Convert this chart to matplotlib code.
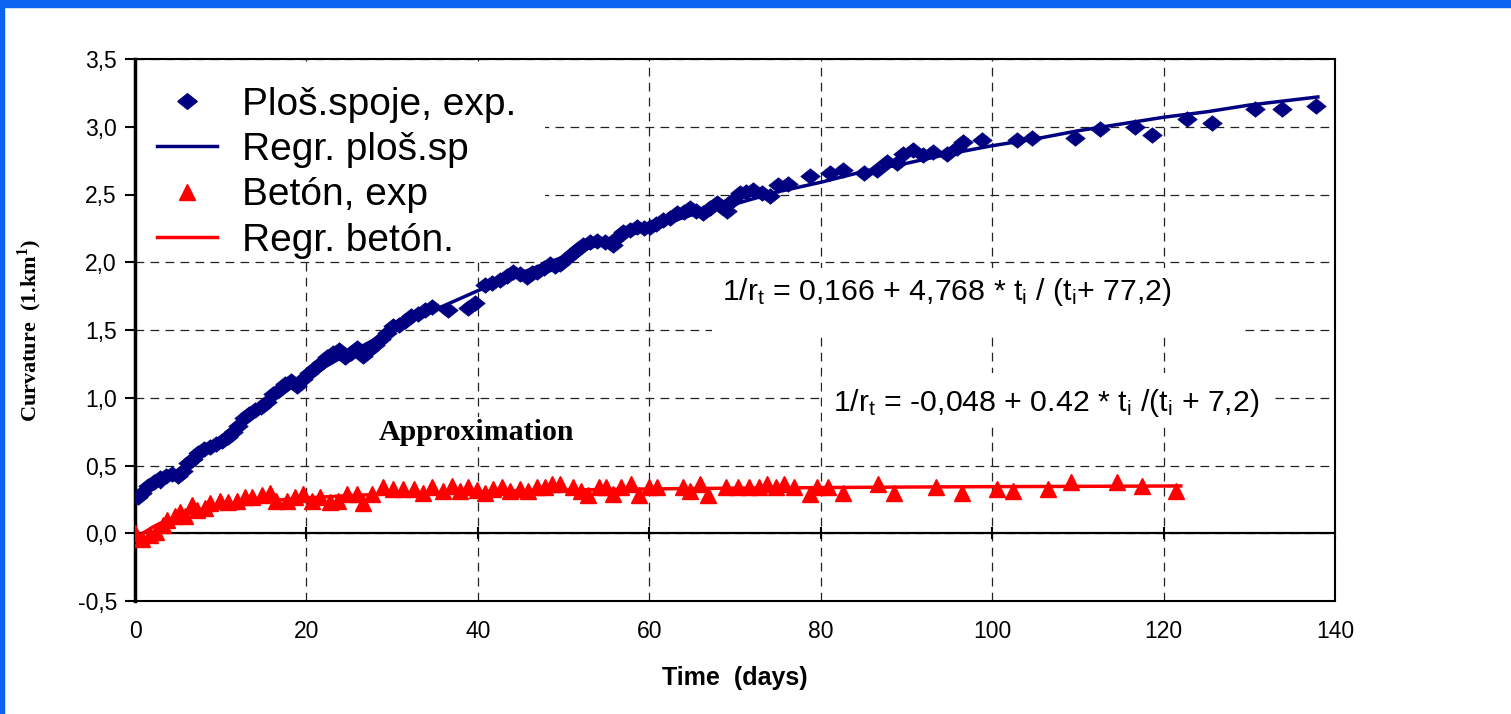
import matplotlib
matplotlib.use("Agg")
import matplotlib.pyplot as plt
from matplotlib.patches import Rectangle
from matplotlib.lines import Line2D

plt.rcParams['font.family'] = ['Liberation Sans', 'DejaVu Sans']
plt.rcParams['mathtext.fontset'] = 'custom'
plt.rcParams['mathtext.rm'] = 'Liberation Sans'
plt.rcParams['mathtext.it'] = 'Liberation Sans'

# ---------------- data ----------------
blue_t = [0.3, 0.8, 1.5, 2.2, 2.9, 3.6, 4.3, 5.0, 5.6, 6.2, 6.8, 7.4, 8.0, 8.7, 9.4,
          10.1, 10.8, 11.4, 12.0, 12.7, 13.3, 14.0, 14.7, 15.4, 16.1, 16.8, 17.5, 18.2,
          18.9, 19.6, 20.3, 21.0, 21.7, 22.4, 23.1, 23.8, 24.5, 25.2, 25.9, 26.6, 27.3,
          28.0, 28.7, 29.4, 30.1, 30.8, 31.5, 32.2, 33.0, 33.8, 34.6, 36.5, 38.9, 39.7,
          40.8, 41.7, 42.6, 43.4, 44.1, 44.9, 45.7, 46.3, 46.9, 47.7, 48.4, 49.0, 49.6,
          50.4, 51.1, 51.7, 52.3, 53.1, 53.9, 54.8, 55.8, 56.3, 56.9, 57.7, 58.6, 59.4,
          60.1, 60.8, 61.6, 62.4, 63.2, 64.0, 64.8, 65.5, 66.3, 67.1, 67.9, 68.5, 69.1,
          69.8, 70.6, 71.3, 72.1, 73.1, 74.1, 75.0, 76.2, 78.8, 81.1, 82.6, 85.0, 86.6,
          87.7, 88.9, 89.6, 90.8, 91.9, 93.1, 94.7, 95.9, 96.6, 98.8, 102.9, 104.7,
          109.7, 112.6, 116.7, 118.7, 122.7, 125.7, 130.7, 133.8, 137.8]
blue_v = [0.27, 0.30, 0.35, 0.38, 0.41, 0.42, 0.44, 0.42, 0.46, 0.52, 0.55, 0.59, 0.62, 0.64, 0.66,
          0.68, 0.71, 0.75, 0.79, 0.85, 0.88, 0.91, 0.93, 0.97, 1.03, 1.06, 1.10, 1.12,
          1.09, 1.14, 1.18, 1.22, 1.26, 1.30, 1.33, 1.35, 1.30, 1.33, 1.37, 1.31, 1.35,
          1.39, 1.43, 1.48, 1.53, 1.54, 1.57, 1.60, 1.62, 1.65, 1.67, 1.65, 1.66, 1.70,
          1.83, 1.85, 1.87, 1.90, 1.93, 1.91, 1.89, 1.92, 1.93, 1.96, 1.99, 1.97, 1.99,
          2.03, 2.07, 2.10, 2.13, 2.15, 2.16, 2.15, 2.13, 2.19, 2.22, 2.24, 2.26, 2.25,
          2.26, 2.28, 2.31, 2.33, 2.36, 2.37, 2.40, 2.38, 2.36, 2.40, 2.44, 2.41, 2.38,
          2.46, 2.51, 2.52, 2.53, 2.51, 2.49, 2.57, 2.58, 2.64, 2.66, 2.68, 2.66, 2.68,
          2.74, 2.73, 2.80, 2.83, 2.79, 2.81, 2.80, 2.84, 2.89, 2.90, 2.90, 2.92,
          2.92, 2.98, 3.00, 2.94, 3.06, 3.03, 3.13, 3.13, 3.15]

blue_reg_t = [3, 5, 10, 15, 20, 25, 30, 35, 40, 45, 50, 55, 60, 65, 70, 75, 80, 85,
              90, 95, 100, 105, 110, 115, 120, 125, 130, 138]
blue_reg_v = [0.34, 0.46, 0.71, 0.94, 1.15, 1.33, 1.50, 1.65, 1.79, 1.92, 2.04, 2.15,
              2.25, 2.35, 2.43, 2.52, 2.59, 2.67, 2.73, 2.80, 2.86, 2.91, 2.97, 3.02,
              3.07, 3.11, 3.16, 3.22]

red_t = [0.0, 0.8, 1.7, 2.5, 3.3, 3.7, 4.7, 5.2, 5.8, 6.6, 7.2, 8.2, 8.8, 9.9, 10.9,
         11.9, 12.8, 13.6, 14.8, 15.8, 16.5, 17.7, 18.7, 19.6, 20.6, 21.6, 22.8, 23.7,
         24.7, 25.9, 26.6, 27.6, 28.9, 30.1, 31.3, 32.5, 33.6, 34.6, 35.9, 37.0, 37.9,
         38.9, 39.9, 40.8, 41.8, 42.8, 43.8, 44.9, 45.8, 46.9, 47.8, 48.7, 49.6, 51.1,
         52.0, 52.9, 54.1, 55.0, 55.8, 56.7, 57.9, 58.8, 60.0, 60.9, 63.9, 64.7, 65.9,
         66.8, 68.9, 70.4, 71.6, 72.8, 73.7, 74.8, 75.7, 76.9, 78.7, 79.6, 80.8, 82.6,
         86.7, 88.5, 93.5, 96.5, 100.6, 102.4, 106.5, 109.2, 114.6, 117.5, 121.4]
red_v = [0.00, -0.04, -0.01, 0.01, 0.06, 0.10, 0.13, 0.16, 0.13, 0.21, 0.17, 0.19, 0.22, 0.24, 0.23,
         0.24, 0.27, 0.27, 0.28, 0.30, 0.24, 0.24, 0.27, 0.29, 0.24, 0.27, 0.23, 0.24,
         0.29, 0.29, 0.22, 0.29, 0.34, 0.33, 0.33, 0.33, 0.30, 0.34, 0.31, 0.35, 0.31,
         0.34, 0.32, 0.30, 0.33, 0.34, 0.31, 0.33, 0.31, 0.34, 0.34, 0.36, 0.36, 0.34,
         0.31, 0.28, 0.34, 0.34, 0.29, 0.34, 0.36, 0.28, 0.34, 0.34, 0.34, 0.31, 0.36,
         0.28, 0.34, 0.34, 0.34, 0.34, 0.36, 0.34, 0.36, 0.34, 0.29, 0.34, 0.34, 0.30,
         0.36, 0.30, 0.34, 0.30, 0.33, 0.31, 0.33, 0.38, 0.38, 0.35, 0.31]

red_reg_t = [0, 1, 2, 3, 5, 7, 10, 15, 20, 25, 30, 40, 50, 60, 70, 80, 90, 100, 110, 122]
red_reg_v = [-0.048, 0.003, 0.043, 0.076, 0.124, 0.159, 0.196, 0.236, 0.261, 0.278,
             0.291, 0.308, 0.319, 0.327, 0.333, 0.337, 0.341, 0.344, 0.346, 0.349]

x_ticks = [0, 20, 40, 60, 80, 100, 120, 140]
y_ticks = [-0.5, 0.0, 0.5, 1.0, 1.5, 2.0, 2.5, 3.0, 3.5]
y_tick_labels = ['-0,5', '0,0', '0,5', '1,0', '1,5', '2,0', '2,5', '3,0', '3,5']

legend_labels = ['Ploš.spoje, exp.', 'Regr. ploš.sp', 'Betón, exp', 'Regr. betón.']
eq_blue = r'1/r$_{\mathrm{t}}$ = 0,166 + 4,768 * t$_{\mathrm{i}}$ / (t$_{\mathrm{i}}$+ 77,2)'
eq_red = r'1/r$_{\mathrm{t}}$ = -0,048 + 0.42 * t$_{\mathrm{i}}$ /(t$_{\mathrm{i}}$ + 7,2)'

NAVY = '#000080'
RED = '#ff0000'
DIAMOND = [(-1.0, 0.0), (0.0, 0.8), (1.0, 0.0), (0.0, -0.8), (-1.0, 0.0)]

# ---------------- figure ----------------
W, H = 1511, 714
fig = plt.figure(figsize=(W / 100, H / 100), dpi=100)
fig.patch.set_facecolor('white')
fig.patches.append(Rectangle((0, 1 - 7 / H), 1, 7 / H, transform=fig.transFigure,
                             color='#0a64f0', zorder=0))
fig.patches.append(Rectangle((0, 0), 4 / W, 1, transform=fig.transFigure,
                             color='#0a64f0', zorder=0))

L, R, T, B = 135, 1335, 59, 601
ax = fig.add_axes([L / W, 1 - B / H, (R - L) / W, (B - T) / H])
ax.set_xlim(0, 140)
ax.set_ylim(-0.5, 3.5)

ax.set_axisbelow(True)
ax.grid(True, which='major', color='#222222', linestyle=(0, (7, 5)), linewidth=0.9)
ax.axhline(0, color='black', linewidth=1.6, zorder=1.5)

for s in ['top', 'right', 'bottom']:
    ax.spines[s].set_linewidth(1.5)
ax.spines['left'].set_linewidth(2.5)

ax.set_xticks(x_ticks)
ax.set_yticks(y_ticks)
ax.set_yticklabels(y_tick_labels)
ax.tick_params(axis='y', direction='out', length=7, width=1.5, pad=6, labelsize=16.5)
ax.tick_params(axis='x', length=0, pad=14, labelsize=16.5)
ax.plot(x_ticks, [0] * len(x_ticks), ls='none', marker='|', ms=9, mew=1.5,
        color='black', zorder=1.6, clip_on=False)

# white boxes behind texts
ax.add_patch(Rectangle((0.0, 0.633), 0.342, 0.354, transform=ax.transAxes,
                       facecolor='white', edgecolor='none', zorder=1))
ax.add_patch(Rectangle((67.3, 1.45), 61.6, 0.51, facecolor='white',
                       edgecolor='none', zorder=1))
ax.add_patch(Rectangle((80.2, 0.80), 52.8, 0.38, facecolor='white',
                       edgecolor='none', zorder=1))

# data
ax.plot(blue_reg_t, blue_reg_v, color=NAVY, lw=2.5, zorder=3)
ax.plot(red_reg_t, red_reg_v, color=RED, lw=2.5, zorder=3)
ax.plot(blue_t, blue_v, ls='none', marker=DIAMOND, ms=14, color=NAVY, mec=NAVY,
        mew=0.5, zorder=4)
ax.plot(red_t, red_v, ls='none', marker='^', ms=11.5, color=RED, mec=RED, zorder=4)

# texts
ax.text(68.5, 1.78, eq_blue, fontsize=21.8, va='center', ha='left', zorder=5)
ax.text(81.4, 0.96, eq_red, fontsize=21.8, va='center', ha='left', zorder=5)
ax.text(39.8, 0.745, 'Approximation', fontsize=21.5, fontweight='bold',
        family=['Liberation Serif', 'DejaVu Serif'], ha='center', va='center', zorder=5,
        bbox=dict(facecolor='white', edgecolor='none', pad=1))

ax.set_xlabel('Time  (days)', fontsize=18, fontweight='bold', labelpad=16)
ax.set_ylabel('Curvature  (1.km$^{\\mathregular{1}}$)', fontsize=16, fontweight='bold',
              family=['Liberation Serif', 'DejaVu Serif'], labelpad=24)

handles = [
    Line2D([], [], ls='none', marker=DIAMOND, ms=14, color=NAVY),
    Line2D([], [], color=NAVY, lw=2.5),
    Line2D([], [], ls='none', marker='^', ms=12, color=RED),
    Line2D([], [], color=RED, lw=2.5),
]
leg = ax.legend(handles, legend_labels, loc='upper left', bbox_to_anchor=(0.0, 0.99),
                fontsize=28, frameon=False, handlelength=1.54, handletextpad=0.64,
                labelspacing=0.24, borderaxespad=0.29, borderpad=0.28)
leg.set_zorder(6)

fig.savefig('out.png', dpi=100, facecolor='white')
